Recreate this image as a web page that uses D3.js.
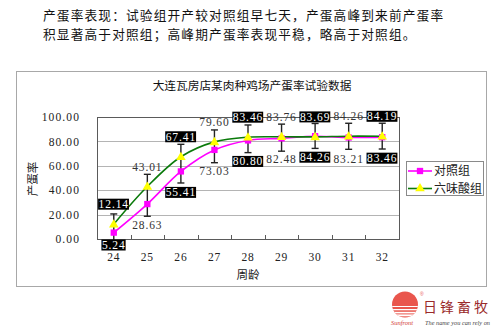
<!DOCTYPE html>
<html>
<head>
<meta charset="utf-8">
<script src="https://cdn.jsdelivr.net/npm/d3@7"></script>
<style>
  html, body { margin: 0; padding: 0; background: #fff; }
  svg { display: block; }
  .num { font-family: "Liberation Serif", "Noto Sans CJK SC", serif; }
  .cjk { font-family: "Noto Sans CJK SC", sans-serif; }
</style>
</head>
<body>
<svg id="chart" width="500" height="331"></svg>
<script>
// Weekly laying rate (%) for the two groups, weeks 24–32
const weeks = ["24", "25", "26", "27", "28", "29", "30", "31", "32"];
const controlRate = [5.24, 28.63, 55.41, 73.03, 80.80, 82.48, 84.26, 83.21, 83.46];
const testRate    = [12.14, 43.01, 67.41, 79.60, 83.46, 83.76, 83.69, 84.26, 84.19];
// error margins (percentage points)
const controlErr = [8, 10, 9.5, 10.5, 10, 10.5, 10, 9.7, 9.7];
const testErr    = [8.4, 10, 10.2, 9.8, 10, 10.4, 11, 10.6, 10.7];
const yTicks = [0, 20, 40, 60, 80, 100];
const seriesNames = ["对照组", "六味酸组"];
const headline = [
  "产蛋率表现：试验组开产较对照组早七天，产蛋高峰到来前产蛋率",
  "积显著高于对照组；高峰期产蛋率表现平稳，略高于对照组。"
];
const chartTitle = "大连瓦房店某肉种鸡场产蛋率试验数据";

const svg = d3.select("#chart");

// headline text above the chart
svg.selectAll("text.head").data(headline).join("text")
  .attr("class", "head cjk")
  .attr("x", 43).attr("y", (d, i) => 20 + i * 18.5)
  .attr("font-size", 12.7).attr("letter-spacing", 1.15).attr("fill", "#111")
  .text(d => d);

// outer chart frame
svg.append("rect").attr("x", 16.5).attr("y", 71.5).attr("width", 470).attr("height", 215)
  .attr("fill", "#fff").attr("stroke", "#a8a8a8").attr("stroke-width", 1);

svg.append("text").attr("class", "cjk")
  .attr("x", 252).attr("y", 89.5).attr("text-anchor", "middle")
  .attr("font-size", 11.7).attr("fill", "#111").text(chartTitle);

const plot = { left: 97, right: 399, top: 117, bottom: 239 };
const x = d3.scaleBand().domain(weeks).range([plot.left, plot.right]).paddingInner(0).paddingOuter(0);
const cx = w => x(w) + x.bandwidth() / 2;
const y = d3.scaleLinear().domain([0, 100]).range([plot.bottom, plot.top]);

// gridlines
svg.append("g").selectAll("line").data(yTicks.filter(t => t > 0 && t < 100)).join("line")
  .attr("x1", plot.left).attr("x2", plot.right)
  .attr("y1", d => Math.round(y(d)) + 0.5).attr("y2", d => Math.round(y(d)) + 0.5)
  .attr("stroke", "#b4b4b4").attr("stroke-width", 1);

// plot border
svg.append("rect").attr("x", plot.left + 0.5).attr("y", plot.top + 0.5)
  .attr("width", plot.right - plot.left).attr("height", plot.bottom - plot.top)
  .attr("fill", "none").attr("stroke", "#5a5a5a").attr("stroke-width", 1);

// y axis
const yAxis = svg.append("g").attr("transform", `translate(${plot.left},0)`)
  .call(d3.axisLeft(y).tickValues(yTicks).tickFormat(d3.format(".2f")).tickSize(0).tickPadding(17));
yAxis.select(".domain").remove();
yAxis.selectAll("text").attr("class", "num").attr("font-size", 11.5).attr("fill", "#222")
  .attr("letter-spacing", 1.1).attr("font-family", null);

// x axis
const xAxis = svg.append("g").attr("transform", `translate(0,${plot.bottom})`)
  .call(d3.axisBottom(x).tickSize(0).tickPadding(14));
xAxis.select(".domain").remove();
xAxis.selectAll("text").attr("class", "num").attr("font-size", 11.5).attr("fill", "#222")
  .attr("letter-spacing", 0.8).attr("font-family", null);
// category separators
svg.append("g").selectAll("line").data(weeks.slice(1)).join("line")
  .attr("x1", d => Math.round(x(d)) + 0.5).attr("x2", d => Math.round(x(d)) + 0.5)
  .attr("y1", plot.bottom).attr("y2", plot.bottom - 4)
  .attr("stroke", "#5a5a5a");

// axis titles
svg.append("text").attr("class", "cjk")
  .attr("transform", "translate(37,179) rotate(-90)")
  .attr("text-anchor", "middle").attr("font-size", 11.5).attr("fill", "#222").text("产蛋率");
svg.append("text").attr("class", "cjk")
  .attr("x", 248).attr("y", 279).attr("text-anchor", "middle")
  .attr("font-size", 11.5).attr("fill", "#222").text("周龄");

// error bars: upper margin of the test group to lower margin of the control group
const bars = svg.append("g").attr("stroke", "#222").attr("stroke-width", 1.4);
weeks.forEach((w, i) => {
  const top = y(testRate[i] + testErr[i]);
  const bot = y(controlRate[i] - controlErr[i]);
  const xx = cx(w);
  bars.append("line").attr("x1", xx).attr("x2", xx).attr("y1", top).attr("y2", bot);
  bars.append("line").attr("x1", xx - 3.5).attr("x2", xx + 3.5).attr("y1", top).attr("y2", top);
  bars.append("line").attr("x1", xx - 3.5).attr("x2", xx + 3.5).attr("y1", bot).attr("y2", bot);
});

const line = d3.line().x((d, i) => cx(weeks[i])).y(d => y(d)).curve(d3.curveCatmullRom.alpha(0.5));

svg.append("path").datum(controlRate).attr("d", line)
  .attr("fill", "none").attr("stroke", "#ff00ff").attr("stroke-width", 1.6);
svg.append("path").datum(testRate).attr("d", line)
  .attr("fill", "none").attr("stroke", "#0a7a0a").attr("stroke-width", 1.6);

const square = d3.symbol().type(d3.symbolSquare).size(40);
const tri = d3.symbol().type(d3.symbolTriangle).size(40);

svg.append("g").selectAll("path").data(controlRate).join("path")
  .attr("d", square)
  .attr("transform", (d, i) => `translate(${cx(weeks[i])},${y(d)})`)
  .attr("fill", "#ff00ff");
svg.append("g").selectAll("path").data(testRate).join("path")
  .attr("d", tri)
  .attr("transform", (d, i) => `translate(${cx(weeks[i])},${y(d) + 0.5})`)
  .attr("fill", "#ffff00");

// value labels; every other label is shown highlighted
function addLabel(val, xx, yy, boxed) {
  const g = svg.append("g");
  const t = g.append("text").attr("class", "num")
    .attr("x", xx).attr("y", yy).attr("dy", "0.35em")
    .attr("text-anchor", "middle").attr("font-size", 11.5)
    .attr("letter-spacing", 0.9)
    .attr("fill", boxed ? "#fff" : "#333")
    .text(d3.format(".2f")(val));
  if (boxed) {
    const b = t.node().getBBox();
    g.insert("rect", "text")
      .attr("x", b.x - 0.5).attr("y", yy - 5.5)
      .attr("width", b.width + 0.5).attr("height", 11)
      .attr("fill", "#000");
  }
}
testRate.forEach((v, i) => addLabel(v, cx(weeks[i]), y(v) - 20, i % 2 === 0));
controlRate.forEach((v, i) => addLabel(v, cx(weeks[i]), Math.min(y(v) + 21, plot.bottom + 6), i % 2 === 0));

// legend
const lg = svg.append("g");
lg.append("rect").attr("x", 406.5).attr("y", 161.5).attr("width", 77).attr("height", 34)
  .attr("fill", "#fff").attr("stroke", "#8a8a8a");
const legendItems = [
  { name: seriesNames[0], stroke: "#ff00ff", fill: "#ff00ff", sym: square },
  { name: seriesNames[1], stroke: "#0a7a0a", fill: "#ffff00", sym: tri }
];
legendItems.forEach((it, i) => {
  const yy = 171 + i * 17.5;
  lg.append("line").attr("x1", 408).attr("x2", 432).attr("y1", yy).attr("y2", yy)
    .attr("stroke", it.stroke).attr("stroke-width", 1.6);
  lg.append("path").attr("d", it.sym).attr("transform", `translate(420,${yy})`).attr("fill", it.fill);
  lg.append("text").attr("class", "cjk").attr("x", 434).attr("y", yy).attr("dy", "0.36em")
    .attr("font-size", 12).attr("fill", "#222").text(it.name);
});

// brand mark
const logo = svg.append("g");
const defs = svg.append("defs");
defs.append("clipPath").attr("id", "sun").append("circle").attr("cx", 405).attr("cy", 304.5).attr("r", 13);
logo.append("circle").attr("cx", 405).attr("cy", 304.5).attr("r", 13).attr("fill", "#e9564d");
const stripes = logo.append("g").attr("clip-path", "url(#sun)");
[306, 309, 311.8, 314.4].forEach((sy, i) => {
  stripes.append("rect").attr("x", 390).attr("y", sy).attr("width", 30).attr("height", 1 + i * 0.3)
    .attr("fill", "#fff");
});
logo.append("text").attr("x", 420).attr("y", 296).attr("font-size", 5).attr("fill", "#e9564d")
  .attr("font-family", "Liberation Sans").text("®");
logo.append("text").attr("class", "cjk").attr("x", 423).attr("y", 312)
  .attr("font-size", 14).attr("letter-spacing", 3).attr("fill", "#9a2a2a").text("日锋畜牧");
logo.append("text").attr("x", 391).attr("y", 325).attr("font-size", 6.5)
  .attr("font-family", "Liberation Serif").attr("font-style", "italic").attr("fill", "#d23a33").text("Sunfront");
logo.append("text").attr("x", 425).attr("y", 325).attr("font-size", 6.3)
  .attr("font-family", "Liberation Serif").attr("font-style", "italic").attr("fill", "#444").text("The name you can rely on");
</script>
</body>
</html>
